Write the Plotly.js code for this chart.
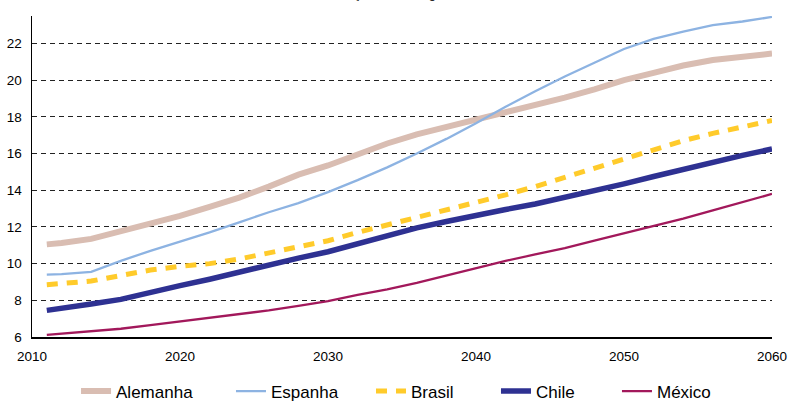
<!DOCTYPE html>
<html>
<head>
<meta charset="utf-8">
<script src="https://cdn.plot.ly/plotly-3.0.1.min.js"></script>
<style>html,body{margin:0;padding:0;background:#fff;}#chart{width:790px;height:401px;}</style>
</head>
<body>
<div id="chart"></div>
<script>
var years = [2011, 2012, 2014, 2016, 2018, 2020, 2022, 2024, 2026, 2028, 2030, 2032, 2034, 2036, 2038, 2040, 2042, 2044, 2046, 2048, 2050, 2052, 2054, 2056, 2058, 2060];
var alemanha = [11.05, 11.12, 11.35, 11.75, 12.2, 12.6, 13.1, 13.6, 14.2, 14.85, 15.35, 15.95, 16.55, 17.05, 17.45, 17.8, 18.2, 18.6, 19.05, 19.5, 20.0, 20.4, 20.8, 21.1, 21.3, 21.45];
var espanha = [9.4, 9.43, 9.55, 10.15, 10.7, 11.2, 11.7, 12.25, 12.8, 13.3, 13.9, 14.55, 15.25, 16.0, 16.8, 17.65, 18.55, 19.4, 20.2, 20.95, 21.7, 22.25, 22.65, 23.0, 23.2, 23.45];
var brasil = [8.85, 8.9, 9.05, 9.35, 9.65, 9.85, 10.0, 10.25, 10.6, 10.95, 11.25, 11.7, 12.1, 12.5, 12.9, 13.3, 13.75, 14.2, 14.7, 15.2, 15.75, 16.2, 16.7, 17.1, 17.45, 17.8];
var chile = [7.45, 7.55, 7.8, 8.05, 8.45, 8.8, 9.15, 9.55, 9.9, 10.3, 10.65, 11.1, 11.55, 11.95, 12.3, 12.65, 12.95, 13.25, 13.6, 13.95, 14.35, 14.75, 15.15, 15.55, 15.9, 16.25];
var mexico = [6.12, 6.18, 6.3, 6.45, 6.65, 6.85, 7.05, 7.25, 7.45, 7.7, 7.95, 8.3, 8.6, 8.95, 9.35, 9.75, 10.15, 10.5, 10.85, 11.25, 11.65, 12.05, 12.45, 12.9, 13.35, 13.8];
var seriesNames = ['Alemanha', 'Espanha', 'Brasil', 'Chile', 'México'];
var yTicks = [6, 8, 10, 12, 14, 16, 18, 20, 22];
var xTicks = [2010, 2020, 2030, 2040, 2050, 2060];
var titleText = 'Gasto em saúde, evolução até o longo termo, em % do PIB';

var FONT = 'Liberation Sans, Arial, sans-serif';
var values = [alemanha, espanha, brasil, chile, mexico];
var styles = [
  {color: '#d9bdb2', width: 6},
  {color: '#8db3e2', width: 2.3},
  {color: '#ffcb2b', width: 5, dash: '11px,9px'},
  {color: '#2e3192', width: 5.5},
  {color: '#a2185b', width: 2.3}
];
var legendX = [0.0595, 0.2689, 0.4581, 0.627, 0.7905];
var legendKeys = ['legend', 'legend2', 'legend3', 'legend4', 'legend5'];

var traces = seriesNames.map(function (n, i) {
  return {
    x: years, y: values[i], name: n, type: 'scatter', mode: 'lines',
    line: styles[i], legend: legendKeys[i], hoverinfo: 'x+y+name'
  };
});

var layout = {
  width: 790, height: 401,
  margin: {l: 32, r: 18, t: 16, b: 64, autoexpand: false},
  paper_bgcolor: '#fff', plot_bgcolor: '#fff',
  font: {family: FONT, color: '#000', size: 13.5},
  title: {text: titleText, font: {family: FONT, size: 13, color: '#000'},
          x: 0.496, xanchor: 'center', y: 1, yanchor: 'bottom', yref: 'container',
          pad: {b: 2}},
  xaxis: {
    range: [2010, 2060], tickvals: xTicks, ticktext: xTicks.map(String),
    showgrid: false, zeroline: false, showline: true, linecolor: '#000', linewidth: 1.5,
    ticks: '', ticklabelstandoff: 6, tickfont: {size: 13.5, family: FONT}, automargin: false
  },
  yaxis: {
    range: [6, 23.5], tickvals: yTicks, ticktext: yTicks.map(String),
    showgrid: true, gridcolor: '#222', gridwidth: 1, griddash: '5px,4px',
    zeroline: false, showline: true, linecolor: '#000', linewidth: 1.5,
    ticks: '', ticklabelstandoff: 6, tickfont: {size: 13.5, family: FONT}, automargin: false
  },
  showlegend: true
};
legendKeys.forEach(function (k, i) {
  layout[k] = {
    orientation: 'h', x: legendX[i], xanchor: 'left', y: -0.17, yanchor: 'middle',
    font: {family: FONT, size: 17, color: '#000'}, bgcolor: 'rgba(0,0,0,0)', borderwidth: 0
  };
});

Plotly.newPlot('chart', traces, layout, {displayModeBar: false, staticPlot: true});
</script>
</body>
</html>
